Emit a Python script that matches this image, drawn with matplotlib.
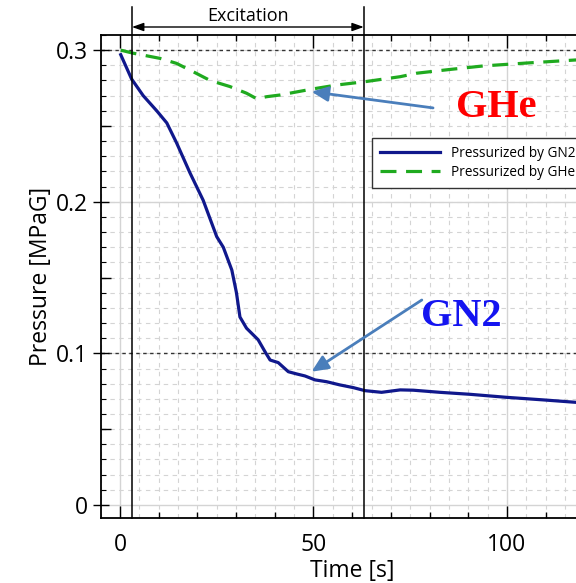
import numpy as np
import matplotlib
matplotlib.use('Agg')
import matplotlib.pyplot as plt
from matplotlib.ticker import MultipleLocator, FixedLocator, NullFormatter

plt.rcParams['font.family'] = ['Open Sans', 'DejaVu Sans']

# GN2 pressurized run
t_gn2 = [0.2, 3.0, 6.0, 9.5, 12.1, 14.6, 18.1, 21.5, 25.0, 26.7, 28.9, 30.1, 31.0,
         32.7, 35.7, 37.5, 38.8, 40.9, 43.5, 45.7, 47.8, 50.4, 53.4, 56.8, 60.3,
         63.3, 67.6, 72.4, 75.8, 82.7, 90.4, 99.9, 109.4, 117.8, 125.0]
p_gn2 = [0.297, 0.281, 0.270, 0.260, 0.252, 0.239, 0.219, 0.201, 0.177, 0.170,
         0.155, 0.140, 0.124, 0.1166, 0.109, 0.101, 0.0956, 0.0939, 0.0879, 0.0864,
         0.0851, 0.0825, 0.0813, 0.0792, 0.0774, 0.0754, 0.0743, 0.0759, 0.0757,
         0.0743, 0.0730, 0.0710, 0.0693, 0.0677, 0.0665]

# GHe pressurized run
t_ghe = [0.2, 3.4, 10.3, 14.6, 18.9, 23.3, 28.4, 32.7, 35.3, 37.9, 41.3, 50.0,
         56.0, 63.3, 72.4, 76.7, 85.0, 93.9, 105.0, 117.6, 125.0]
p_ghe = [0.300, 0.298, 0.2946, 0.2913, 0.2858, 0.280, 0.276, 0.2716, 0.268, 0.2693,
         0.2704, 0.2745, 0.2770, 0.2792, 0.2825, 0.2848, 0.2872, 0.2896, 0.2915,
         0.2935, 0.2945]

exc_start, exc_end = 3.1, 63.0

W, H = 576, 583
fig = plt.figure(figsize=(W / 100, H / 100), dpi=100)
xmin, xmax = -4.9, 125.0
ymin, ymax = -0.0086, 0.310
ax_w = (xmax - xmin) * 3.87
ax = fig.add_axes([101 / W, 65 / H, ax_w / W, 483 / H])
ax.set_xlim(xmin, xmax)
ax.set_ylim(ymin, ymax)

# background grid
grid_c = '#d4d4d4'
for x in np.arange(-5, 126, 5):
    if x % 50 == 0:
        ax.axvline(x, color=grid_c, lw=1.0, zorder=0)
    else:
        ax.axvline(x, color=grid_c, lw=0.8, ls=(0, (4, 4)), zorder=0)
for y in np.arange(0.01, 0.31, 0.01):
    ax.axhline(y, color=grid_c, lw=0.8, ls=(0, (4, 4)), zorder=0)
ax.axhline(0, color=grid_c, lw=1.0, zorder=0)
ax.axhline(0.2, color=grid_c, lw=1.0, zorder=0)
for y in (0.1, 0.3):
    ax.axhline(y, color='#333333', lw=1.0, ls=(0, (2.5, 2.5)), zorder=1)

ax.plot(t_gn2, p_gn2, color='#10188c', lw=2.3, label='Pressurized by GN2', zorder=3)
ax.plot(t_ghe, p_ghe, color='#1faa1f', lw=2.3, ls=(0, (5, 3)),
        label='Pressurized by GHe', zorder=3)

# excitation window
trans = ax.get_xaxis_transform()
top = 1 + 28 / 483
for xe in (exc_start, exc_end):
    ax.plot([xe, xe], [0, top], color='black', lw=1.1, transform=trans,
            clip_on=False, zorder=4)
ax.annotate('', xy=(exc_start, 1 + 8 / 483), xytext=(exc_end, 1 + 8 / 483),
            xycoords=trans, textcoords=trans,
            arrowprops=dict(arrowstyle='<|-|>,head_length=0.7,head_width=0.25',
                            color='black', lw=1.0, shrinkA=0, shrinkB=0))
ax.text((exc_start + exc_end) / 2, 1 + 19 / 483, 'Excitation', transform=trans,
        ha='center', va='center', fontsize=13)

# callouts
arrow_c = '#4a7ebb'
ax.annotate('', xy=(49.5, 0.2726), xytext=(80.9, 0.2619),
            arrowprops=dict(arrowstyle='-|>,head_length=1.0,head_width=0.45',
                            color=arrow_c, lw=2.0, shrinkA=0, shrinkB=0), zorder=5)
ax.annotate('', xy=(49.5, 0.0879), xytext=(78.0, 0.1352),
            arrowprops=dict(arrowstyle='-|>,head_length=1.0,head_width=0.45',
                            color=arrow_c, lw=2.0, shrinkA=0, shrinkB=0), zorder=5)
ax.text(97.2, 0.2625, 'GHe', color='#ff0000', fontsize=29, fontweight='bold',
        family='Liberation Serif', ha='center', va='center')
ax.text(88.1, 0.124, 'GN2', color='#1414f0', fontsize=29, fontweight='bold',
        family='Liberation Serif', ha='center', va='center')

# ticks
ax.xaxis.set_major_locator(FixedLocator([0, 50, 100]))
ax.xaxis.set_minor_locator(MultipleLocator(10))
ax.yaxis.set_major_locator(FixedLocator([0, 0.1, 0.2, 0.3]))
ax.yaxis.set_minor_locator(MultipleLocator(0.01))
ax.set_yticklabels(['0', '0.1', '0.2', '0.3'])
ax.tick_params(which='major', direction='in', length=9, width=1.0, labelsize=16.5,
               top=True, pad=11)
ax.tick_params(axis='y', which='major', direction='inout', length=11, pad=4)
ax.tick_params(axis='x', which='minor', direction='in', length=4, width=1.0, top=True)
ax.tick_params(axis='y', which='minor', direction='in', length=3.5, width=0.8)

# medium ticks at every 0.05
sec = ax.secondary_yaxis('left')
sec.yaxis.set_major_locator(FixedLocator([0.05, 0.15, 0.25]))
sec.yaxis.set_major_formatter(NullFormatter())
sec.tick_params(direction='in', length=7, width=1.0)
sec.spines['left'].set_visible(False)

for s in ax.spines.values():
    s.set_linewidth(1.3)

ax.set_xlabel('Time [s]', fontsize=16.5, labelpad=1.5)
ax.set_ylabel('Pressure [MPaG]', fontsize=16.5, labelpad=2)

leg = ax.legend(loc='upper left', bbox_to_anchor=(372 / W, 1 - 138 / H),
                bbox_transform=fig.transFigure, borderaxespad=0, fontsize=9.8,
                handlelength=4.4, fancybox=False, framealpha=1,
                edgecolor='#333333', borderpad=0.6, labelspacing=0.3)
leg.get_frame().set_linewidth(1.0)

fig.savefig('out.png', dpi=100)
